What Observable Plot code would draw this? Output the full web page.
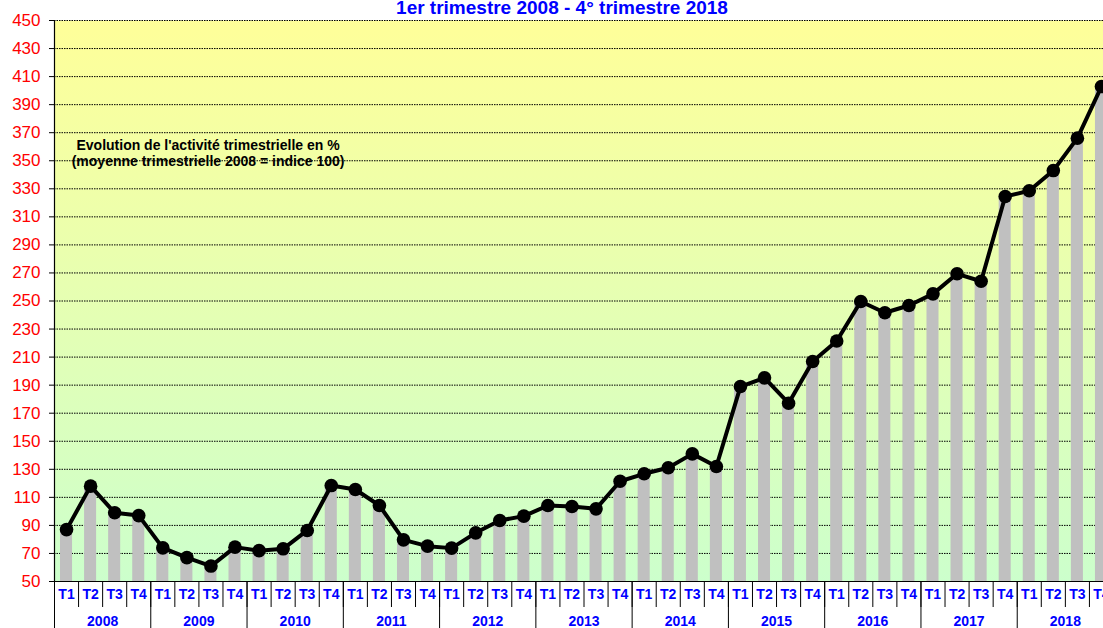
<!DOCTYPE html>
<html><head><meta charset="utf-8">
<script src="https://cdn.jsdelivr.net/npm/d3@7"></script>
<script src="https://cdn.jsdelivr.net/npm/@observablehq/plot@0.6"></script>
<style>
html,body{margin:0;padding:0;overflow:hidden;background:#fff;}
#chart{width:1114px;}
#chart svg{display:block;max-width:none !important;width:1114px;height:628px;}
</style>
</head><body><div id="chart"></div>
<script>
const years = [2008, 2009, 2010, 2011, 2012, 2013, 2014, 2015, 2016, 2017, 2018];
const quarterLabels = ["T1", "T2", "T3", "T4"];
const values = [
  87, 118, 99, 97,
  74, 67, 61, 74.5,
  72, 73.3, 86.4, 118.4,
  115.6, 104.2, 79.7, 75.2,
  73.8, 84.7, 93.5, 96.6,
  104.2, 103.5, 101.8, 121.5,
  126.8, 131.1, 141, 132,
  189, 195.2, 177.1, 206.9,
  221.5, 249.6, 241.6, 246.8,
  255.1, 269.4, 264.1, 324.5,
  328.6, 343, 366.1, 402.9
];
const yTicks = d3.range(50, 451, 20);
const title = "1er trimestre 2008 - 4° trimestre 2018";
const noteLines = ["Evolution de l'activité trimestrielle en %", "(moyenne trimestrielle 2008 = indice 100)"];

const data = values.map((v, i) => ({i, v, q: quarterLabels[i % 4], year: years[Math.floor(i / 4)]}));
const n = values.length;
const qIdx = d3.range(n);
const qSep = d3.range(n + 1).map(i => i - 0.5);
const ySep = d3.range(years.length + 1).map(k => k * 4 - 0.5);
const yCenters = years.map((y, k) => k * 4 + 1.5);

const font = "'Liberation Sans', Arial, Helvetica, sans-serif";

const chart = Plot.plot({
  width: 1114,
  height: 628,
  marginTop: 20,
  marginBottom: 47,
  marginLeft: 54,
  marginRight: 1,
  style: {fontFamily: font, background: "white", overflow: "visible", maxWidth: "none"},
  x: {type: "linear", domain: [-0.5, n - 0.5], axis: null},
  y: {domain: [50, 450], axis: null},
  marks: [
    Plot.frame({fill: "url(#bggrad)", stroke: "none"}),
    Plot.gridY(yTicks, {stroke: "#000", strokeOpacity: 1, strokeWidth: 1, strokeDasharray: "1.5,1"}),
    Plot.rectY(data, {x1: d => d.i - 0.25, x2: d => d.i + 0.25, y1: 50, y2: "v", fill: "#C0C0C0"}),
    Plot.line(data, {x: "i", y: "v", stroke: "#000", strokeWidth: 4, strokeLinejoin: "round"}),
    Plot.dot(data, {x: "i", y: "v", r: 6.8, fill: "#000", stroke: "none"}),
    Plot.axisY({ticks: yTicks, label: null, tickSize: 5, tickPadding: 9, stroke: "#000", fill: "#FF0000",
      fontSize: 17, tickFormat: d => String(d)}),
    Plot.ruleX([-0.5], {stroke: "#000", strokeWidth: 1.2}),
    Plot.ruleY([50], {stroke: "#000", strokeWidth: 1.2}),
    // quarter separators
    Plot.axisX({ticks: qSep, label: null, tickSize: 26, tickFormat: () => "", stroke: "#000", strokeOpacity: 1}),
    // year separators
    Plot.axisX({ticks: ySep, label: null, tickSize: 48, tickFormat: () => "", stroke: "#000", strokeOpacity: 1}),
    // quarter labels
    Plot.axisX({ticks: qIdx, label: null, tickSize: 0, tickPadding: 8, tickFormat: i => quarterLabels[i % 4],
      fill: "#0000FF", fontSize: 14, fontWeight: "bold"}),
    // year labels
    Plot.axisX({ticks: yCenters, label: null, tickSize: 0, tickPadding: 35, tickFormat: c => String(years[Math.round((c - 1.5) / 4)]),
      fill: "#0000FF", fontSize: 14, fontWeight: "bold"}),
    Plot.text([title], {frameAnchor: "top", dx: -22, dy: -7, lineAnchor: "bottom",
      fill: "#0000FF", fontSize: 19, fontWeight: "bold"}),
    Plot.text([noteLines.join("\n")], {x: 5.88, y: 355.7, lineAnchor: "middle", textAnchor: "middle",
      fill: "#000", fontSize: 14, fontWeight: "bold", lineHeight: 1.19})
  ]
});

const defs = d3.create("svg:defs");
const grad = defs.append("linearGradient").attr("id", "bggrad").attr("x1", 0).attr("y1", 0).attr("x2", 0).attr("y2", 1);
grad.append("stop").attr("offset", "0%").attr("stop-color", "#FFFF99");
grad.append("stop").attr("offset", "100%").attr("stop-color", "#CCFFCC");
chart.insertBefore(defs.node(), chart.firstChild);

document.getElementById("chart").appendChild(chart);
</script>
</body></html>
